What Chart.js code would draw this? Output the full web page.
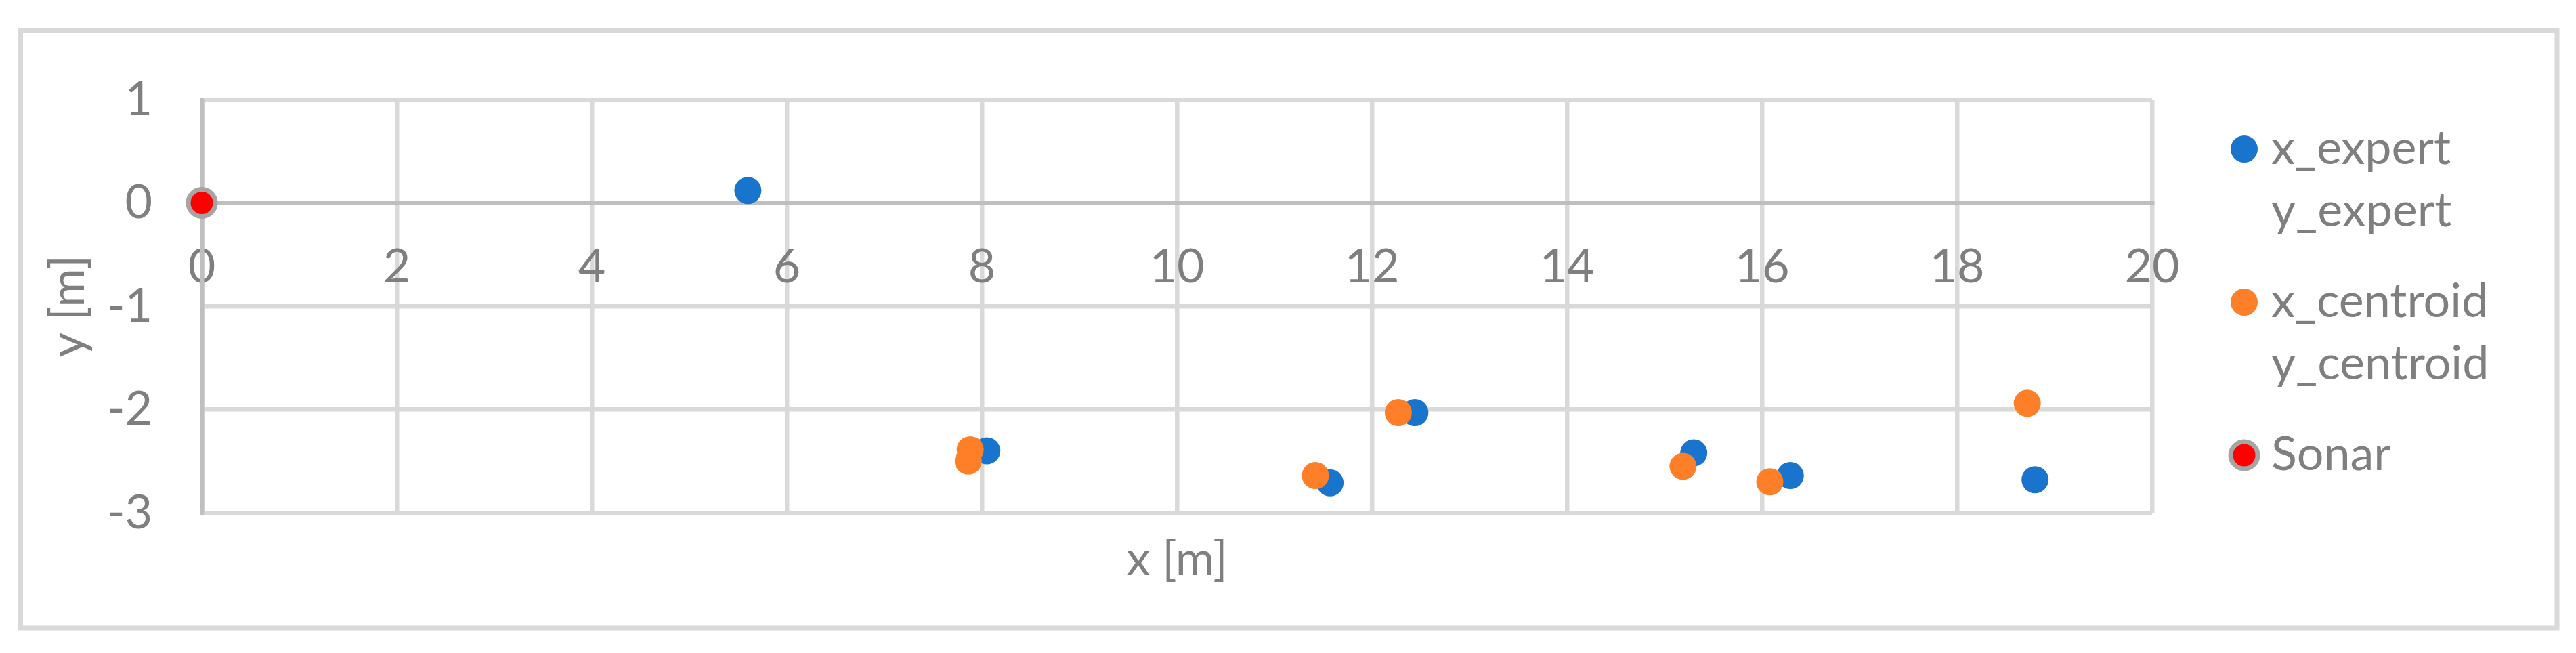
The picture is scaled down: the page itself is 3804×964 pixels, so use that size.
<!DOCTYPE html>
<html>
<head>
<meta charset="utf-8">
<title>Sonar targets</title>
<script src="https://cdn.jsdelivr.net/npm/chart.js@4.4.1/dist/chart.umd.min.js"></script>
<style>
  html, body { margin: 0; padding: 0; background: #fff; }
  #wrap { width: 3804px; height: 964px; }
</style>
</head>
<body>
<div id="wrap"><canvas id="grafico"></canvas></div>
<script>
// values
var expertX = [5.60, 8.05, 11.57, 12.44, 15.30, 16.29, 18.80];
var expertY = [0.12, -2.40, -2.71, -2.03, -2.42, -2.64, -2.68];
var centroidX = [7.88, 7.86, 11.42, 12.27, 15.19, 16.08, 18.72];
var centroidY = [-2.39, -2.50, -2.64, -2.03, -2.55, -2.70, -1.94];
var sonarX = [0];
var sonarY = [0];
var legendLabels = [['x_expert', 'y_expert'], ['x_centroid', 'y_centroid'], ['Sonar']];

function toPoints(xs, ys) {
  var pts = [];
  for (var i = 0; i < xs.length; i++) {
    pts.push({ x: xs[i], y: ys[i] });
  }
  return pts;
}

var gris = '#7f7f7f';
var fuente = { family: 'Lato', size: 70 };

// outer frame of the chart
var marco = {
  id: 'marco',
  beforeDraw: function (chart) {
    var ctx = chart.ctx;
    ctx.save();
    ctx.strokeStyle = '#d9d9d9';
    ctx.lineWidth = 7;
    ctx.strokeRect(30.5, 45.5, 3745.5, 881.5);
    ctx.restore();
  }
};

// legend with two-line labels, drawn by hand
var leyenda = {
  id: 'leyenda',
  afterDraw: function (chart) {
    var ctx = chart.ctx;
    var y = 242;
    ctx.save();
    ctx.font = '70px Lato';
    ctx.textBaseline = 'alphabetic';
    ctx.textAlign = 'left';
    chart.data.datasets.forEach(function (ds, i) {
      var lines = legendLabels[i];
      ctx.beginPath();
      ctx.arc(3314, y - 22, ds.pointRadius, 0, Math.PI * 2);
      ctx.fillStyle = ds.pointBackgroundColor;
      ctx.fill();
      if (ds.pointBorderWidth) {
        ctx.lineWidth = ds.pointBorderWidth;
        ctx.strokeStyle = ds.pointBorderColor;
        ctx.stroke();
      }
      ctx.fillStyle = gris;
      for (var j = 0; j < lines.length; j++) {
        ctx.fillText(lines[j], 3354, y);
        if (j < lines.length - 1) y += 92;
      }
      y += 134;
    });
    ctx.restore();
  }
};

var lineaCero = function (ctx) {
  return ctx.tick && ctx.tick.value === 0 ? '#bfbfbf' : '#d9d9d9';
};

new Chart(document.getElementById('grafico'), {
  type: 'scatter',
  data: {
    datasets: [{
      label: 'x_expert y_expert',
      data: toPoints(expertX, expertY),
      pointRadius: 20,
      pointHoverRadius: 20,
      pointBorderWidth: 0,
      pointBackgroundColor: '#1874cd',
      pointBorderColor: '#1874cd',
      order: 2,
      clip: false
    }, {
      label: 'x_centroid y_centroid',
      data: toPoints(centroidX, centroidY),
      pointRadius: 20,
      pointHoverRadius: 20,
      pointBorderWidth: 0,
      pointBackgroundColor: '#fe7f27',
      pointBorderColor: '#fe7f27',
      order: 1,
      clip: false
    }, {
      label: 'Sonar',
      data: toPoints(sonarX, sonarY),
      pointRadius: 20,
      pointHoverRadius: 20,
      pointBorderWidth: 7,
      pointBackgroundColor: '#ff0000',
      pointBorderColor: '#a5a5a5',
      order: 0,
      clip: false
    }]
  },
  options: {
    responsive: true,
    maintainAspectRatio: false,
    animation: false,
    events: [],
    layout: {
      padding: { left: 0, top: 147, right: 626, bottom: 0 }
    },
    plugins: {
      legend: { display: false },
      tooltip: { enabled: false }
    },
    scales: {
      x: {
        type: 'linear',
        position: { y: 0 },
        min: 0,
        max: 20,
        ticks: {
          stepSize: 2,
          autoSkip: false,
          maxRotation: 0,
          padding: 53,
          color: gris,
          font: fuente
        },
        grid: { color: lineaCero, lineWidth: 6.5, drawTicks: false },
        border: { display: true, color: '#bfbfbf', width: 6.5 }
      },
      x2: {
        type: 'linear',
        position: 'bottom',
        min: 0,
        max: 20,
        ticks: { display: false },
        grid: { display: false },
        border: { display: false },
        title: {
          display: true,
          text: 'x [m]',
          color: gris,
          font: fuente,
          padding: { top: 0, bottom: 96 }
        },
        afterFit: function (scale) { scale.height = 207; }
      },
      y: {
        type: 'linear',
        position: 'left',
        min: -3,
        max: 1,
        ticks: {
          stepSize: 1,
          padding: 73,
          color: gris,
          font: fuente
        },
        grid: { color: lineaCero, lineWidth: 6.5, drawTicks: false },
        border: { display: true, color: '#bfbfbf', width: 6.5 },
        title: {
          display: true,
          text: 'y [m]',
          color: gris,
          font: fuente,
          padding: { top: 59, bottom: 0 }
        },
        afterFit: function (scale) { scale.width = 298; }
      }
    }
  },
  plugins: [marco, leyenda]
});
</script>
</body>
</html>
